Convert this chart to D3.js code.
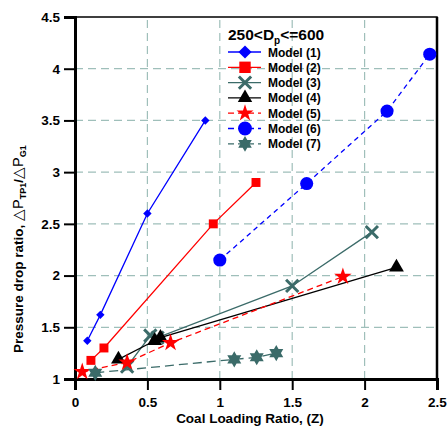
<!DOCTYPE html>
<html>
<head>
<meta charset="utf-8">
<script src="https://cdn.jsdelivr.net/npm/d3@7"></script>
<style>
  body { margin: 0; background: #fff; }
  text { font-family: "Liberation Sans", Arial, sans-serif; font-weight: bold; }
</style>
</head>
<body>
<div id="chart"></div>
<script>
// data (x = coal loading ratio Z, y = pressure drop ratio)
var model1 = [[0.085, 1.37], [0.175, 1.62], [0.5, 2.6], [0.9, 3.5]]
var model2 = [[0.11, 1.18], [0.2, 1.3], [0.955, 2.5], [1.25, 2.9]]
var model3 = [[0.36, 1.12], [0.52, 1.42], [0.57, 1.4], [1.5, 1.9], [2.05, 2.42]]
var model4 = [[0.3, 1.19], [0.55, 1.37], [0.59, 1.4], [2.22, 2.08]]
var model5 = [[0.05, 1.07], [0.36, 1.16], [0.66, 1.35], [1.85, 1.99]]
var model6 = [[1.0, 2.15], [1.6, 2.89], [2.155, 3.59], [2.45, 4.14]]
var model7 = [[0.14, 1.06], [1.1, 1.19], [1.255, 1.21], [1.39, 1.25]]
var modelNames = ["Model (1)", "Model (2)", "Model (3)", "Model (4)", "Model (5)", "Model (6)", "Model (7)"]
var xTicks = [0, 0.5, 1, 1.5, 2, 2.5]
var yTicks = [1, 1.5, 2, 2.5, 3, 3.5, 4, 4.5]

var width = 447, height = 426
var margin = {top: 17, right: 10, bottom: 47, left: 75}

var svg = d3.select("#chart").append("svg")
  .attr("width", width).attr("height", height)

var x = d3.scaleLinear().domain([0, 2.5]).range([margin.left, width - margin.right])
var y = d3.scaleLinear().domain([1, 4.5]).range([height - margin.bottom, margin.top])

// six-pointed star for model 7
var hexagram = {
  draw: function(ctx, size) {
    var r = Math.sqrt(size / 1.3)
    for (var k = 0; k < 2; k++) {
      for (var i = 0; i < 3; i++) {
        var a = (k * 60 + i * 120 - 90) * Math.PI / 180
        if (i == 0) ctx.moveTo(r * Math.cos(a), r * Math.sin(a))
        else ctx.lineTo(r * Math.cos(a), r * Math.sin(a))
      }
      ctx.closePath()
    }
  }
}

var series = [
  {name: modelNames[0], data: model1, color: "#0000ff", dash: null, sym: d3.symbolDiamond2, size: 45, lsize: 110},
  {name: modelNames[1], data: model2, color: "#ff0000", dash: null, sym: d3.symbolSquare, size: 80, lsize: 130},
  {name: modelNames[2], data: model3, color: "#3b6b69", dash: null, sym: d3.symbolX, size: 100, lsize: 100, stroke: true},
  {name: modelNames[3], data: model4, color: "#000000", dash: null, sym: d3.symbolTriangle, size: 95, lsize: 90},
  {name: modelNames[4], data: model5, color: "#ff0000", dash: "6,4", sym: d3.symbolStar, size: 95, lsize: 90},
  {name: modelNames[5], data: model6, color: "#0000ff", dash: "5,4", sym: d3.symbolCircle, size: 135, lsize: 150},
  {name: modelNames[6], data: model7, color: "#3b6b69", dash: "9,5", sym: hexagram, size: 85, lsize: 80}
]

// grid
var gridColor = "#9fbfba"
svg.append("g").selectAll("line").data(xTicks.slice(1, -1)).enter().append("line")
  .attr("x1", d => x(d)).attr("x2", d => x(d))
  .attr("y1", y(1)).attr("y2", y(4.5))
  .attr("stroke", gridColor).attr("stroke-width", 1.2).attr("stroke-dasharray", "8,5")
svg.append("g").selectAll("line").data(yTicks.slice(1, -1)).enter().append("line")
  .attr("x1", x(0)).attr("x2", x(2.5))
  .attr("y1", d => y(d)).attr("y2", d => y(d))
  .attr("stroke", gridColor).attr("stroke-width", 1.2).attr("stroke-dasharray", "8,5")

// frame
svg.append("rect")
  .attr("x", x(0)).attr("y", y(4.5))
  .attr("width", x(2.5) - x(0)).attr("height", y(1) - y(4.5))
  .attr("fill", "none").attr("stroke", "#000").attr("stroke-width", 1.5)
svg.append("line")
  .attr("x1", x(2.5)).attr("x2", x(2.5)).attr("y1", y(4.5)).attr("y2", y(1))
  .attr("stroke", "#000").attr("stroke-width", 2.5)

// axes with minor ticks
var minorX = d3.range(0, 2.501, 0.1)
var minorY = d3.range(1, 4.501, 0.1)

var xAxis = svg.append("g").attr("transform", "translate(0," + y(1) + ")")
xAxis.call(d3.axisBottom(x).tickValues(minorX).tickSize(6).tickFormat(""))
xAxis.call(d3.axisBottom(x).tickValues(xTicks).tickSize(11).tickPadding(7).tickFormat(d3.format("")))
xAxis.selectAll(".domain").attr("stroke-width", 3)
xAxis.selectAll(".tick line").attr("stroke-width", 2)
xAxis.selectAll("text").attr("font-size", 13.5).attr("fill", "#000")

var yAxis = svg.append("g").attr("transform", "translate(" + x(0) + ",0)")
yAxis.call(d3.axisLeft(y).tickValues(minorY).tickSize(6).tickFormat(""))
yAxis.call(d3.axisLeft(y).tickValues(yTicks).tickSize(11).tickPadding(4).tickFormat(d3.format("")))
yAxis.selectAll(".domain").attr("stroke-width", 3)
yAxis.selectAll(".tick line").attr("stroke-width", 2)
yAxis.selectAll("text").attr("font-size", 13.5).attr("fill", "#000")

// lines and markers
var line = d3.line().x(d => x(d[0])).y(d => y(d[1]))
series.forEach(function(s) {
  svg.append("path")
    .attr("d", line(s.data))
    .attr("fill", "none")
    .attr("stroke", s.color)
    .attr("stroke-width", 1.3)
    .attr("stroke-dasharray", s.dash)
  svg.append("g").selectAll("path").data(s.data).enter().append("path")
    .attr("transform", d => "translate(" + x(d[0]) + "," + y(d[1]) + ")")
    .attr("d", d3.symbol().type(s.sym).size(s.size))
    .attr("fill", s.stroke ? "none" : s.color)
    .attr("stroke", s.stroke ? s.color : "none")
    .attr("stroke-width", s.stroke ? 3 : 0)
})

// legend
var legend = svg.append("g").attr("transform", "translate(228,0)")
var title = legend.append("text").attr("x", 0).attr("y", 40).attr("font-size", 15.5)
title.append("tspan").text("250<D")
title.append("tspan").text("p").attr("font-size", 10).attr("dy", 4)
title.append("tspan").text("<=600").attr("dy", -4)

var rows = legend.selectAll("g.row").data(series).enter().append("g")
  .attr("class", "row")
  .attr("transform", (d, i) => "translate(0," + (52 + i * 15.3) + ")")
rows.append("line")
  .attr("x1", 0).attr("x2", 33).attr("y1", 0).attr("y2", 0)
  .attr("stroke", d => d.color).attr("stroke-width", 1.3)
  .attr("stroke-dasharray", d => d.dash ? "6,4" : null)
rows.append("path")
  .attr("transform", "translate(17,0)")
  .attr("d", d => d3.symbol().type(d.sym).size(d.lsize)())
  .attr("fill", d => d.stroke ? "none" : d.color)
  .attr("stroke", d => d.stroke ? d.color : "none")
  .attr("stroke-width", d => d.stroke ? 3 : 0)
rows.append("text")
  .attr("x", 40).attr("y", 4.5)
  .attr("font-size", 12)
  .text(d => d.name)

// axis titles
svg.append("text")
  .attr("x", (x(0) + x(2.5)) / 2 - 6).attr("y", 423)
  .attr("text-anchor", "middle").attr("font-size", 13.5)
  .text("Coal Loading Ratio, (Z)")

var yl = svg.append("text")
  .attr("transform", "translate(23,353) rotate(-90)")
  .attr("text-anchor", "start").attr("font-size", 13.5)
yl.append("tspan").text("Pressure drop ratio, ")
yl.append("tspan").text("\u25B3P").attr("font-weight", "normal").attr("font-size", 14.5)
yl.append("tspan").text("TP1").attr("font-size", 9).attr("dy", 3)
yl.append("tspan").text("/").attr("dy", -3)
yl.append("tspan").text("\u25B3P").attr("font-weight", "normal").attr("font-size", 14.5)
yl.append("tspan").text("G1").attr("font-size", 9).attr("dy", 3)
</script>
</body>
</html>
